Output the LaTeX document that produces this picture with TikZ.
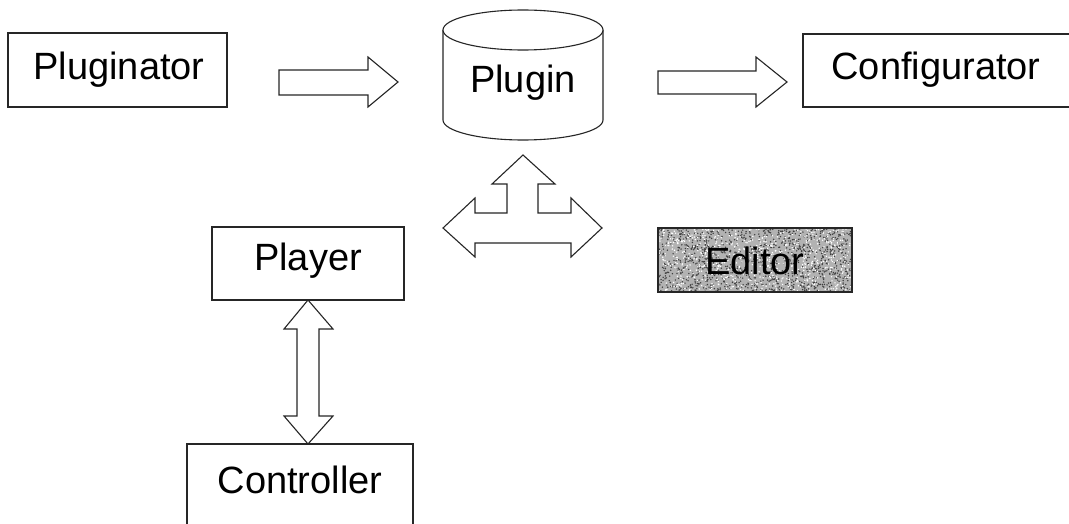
\documentclass[tikz,border=0pt]{standalone}
\usepackage{fontspec}
\setmainfont{Liberation Sans}
\begin{document}
\begin{tikzpicture}[x=1pt,y=-1pt,
  outline/.style={draw=black!85,line width=1.1pt},
  box/.style={outline,fill=white},
  label/.style={font=\fontsize{38}{42}\selectfont,inner sep=0pt,text=black},
  blockarrow/.style={outline,fill=white,line join=miter}]
\useasboundingbox (0,0) rectangle (1069,524);
\clip (0,0) rectangle (1069,524);

% plain boxes
\draw[box] (8,33) rectangle (227,107);
\node[label] (pluginator) at (119,70) {Pluginator};

\draw[box] (803,34) rectangle (1072,107);
\node[label] (configurator) at (936,70) {Configurator};

\draw[box] (212,227) rectangle (404,300);
\node[label] (player) at (308,261) {Player};

\draw[outline] (187,530) -- (187,444) -- (413,444) -- (413,530);
\node[label] (controller) at (300,480) {Controller};

% Editor box with speckled grey fill
\fill[black!30] (658,228) rectangle (852,292);
\pgfmathsetseed{17}
\foreach \i in {1,...,1200}{
  \pgfmathsetmacro\px{658+194*rnd}
  \pgfmathsetmacro\py{228+64*rnd}
  \fill[black!75] (\px,\py) circle (0.8);
}
\foreach \i in {1,...,700}{
  \pgfmathsetmacro\px{658+194*rnd}
  \pgfmathsetmacro\py{228+64*rnd}
  \fill[white] (\px,\py) circle (0.8);
}
\draw[outline] (658,228) rectangle (852,292);
\node[label] (editor) at (755,261) {Editor};

% Plugin store (cylinder)
\draw[outline,fill=white] (443,30) -- (443,120)
  arc[start angle=180,end angle=0,x radius=80,y radius=20] -- (603,30);
\draw[outline,fill=white] (523,30) ellipse[x radius=80,y radius=20];
\node[label] (plugin) at (523,83) {Plugin};

% block arrows
\draw[blockarrow] (279,70) -- (368,70) -- (368,57) -- (398,82) -- (368,107) -- (368,95) -- (279,95) -- cycle;
\draw[blockarrow] (658,71) -- (756,71) -- (756,57) -- (787,82) -- (756,107) -- (756,94) -- (658,94) -- cycle;

% three-way arrow below the store
\draw[blockarrow] (523,155) -- (555,184) -- (538,184) -- (538,213) -- (571,213) -- (571,198)
  -- (602,228) -- (571,257) -- (571,243) -- (475,243) -- (475,257) -- (443,228)
  -- (475,198) -- (475,213) -- (507,213) -- (507,184) -- (492,184) -- cycle;

% Player <-> Controller
\draw[blockarrow] (308,300) -- (333,329) -- (319,329) -- (319,416) -- (333,416)
  -- (308,444) -- (284,416) -- (297,416) -- (297,329) -- (284,329) -- cycle;
\end{tikzpicture}
\end{document}
